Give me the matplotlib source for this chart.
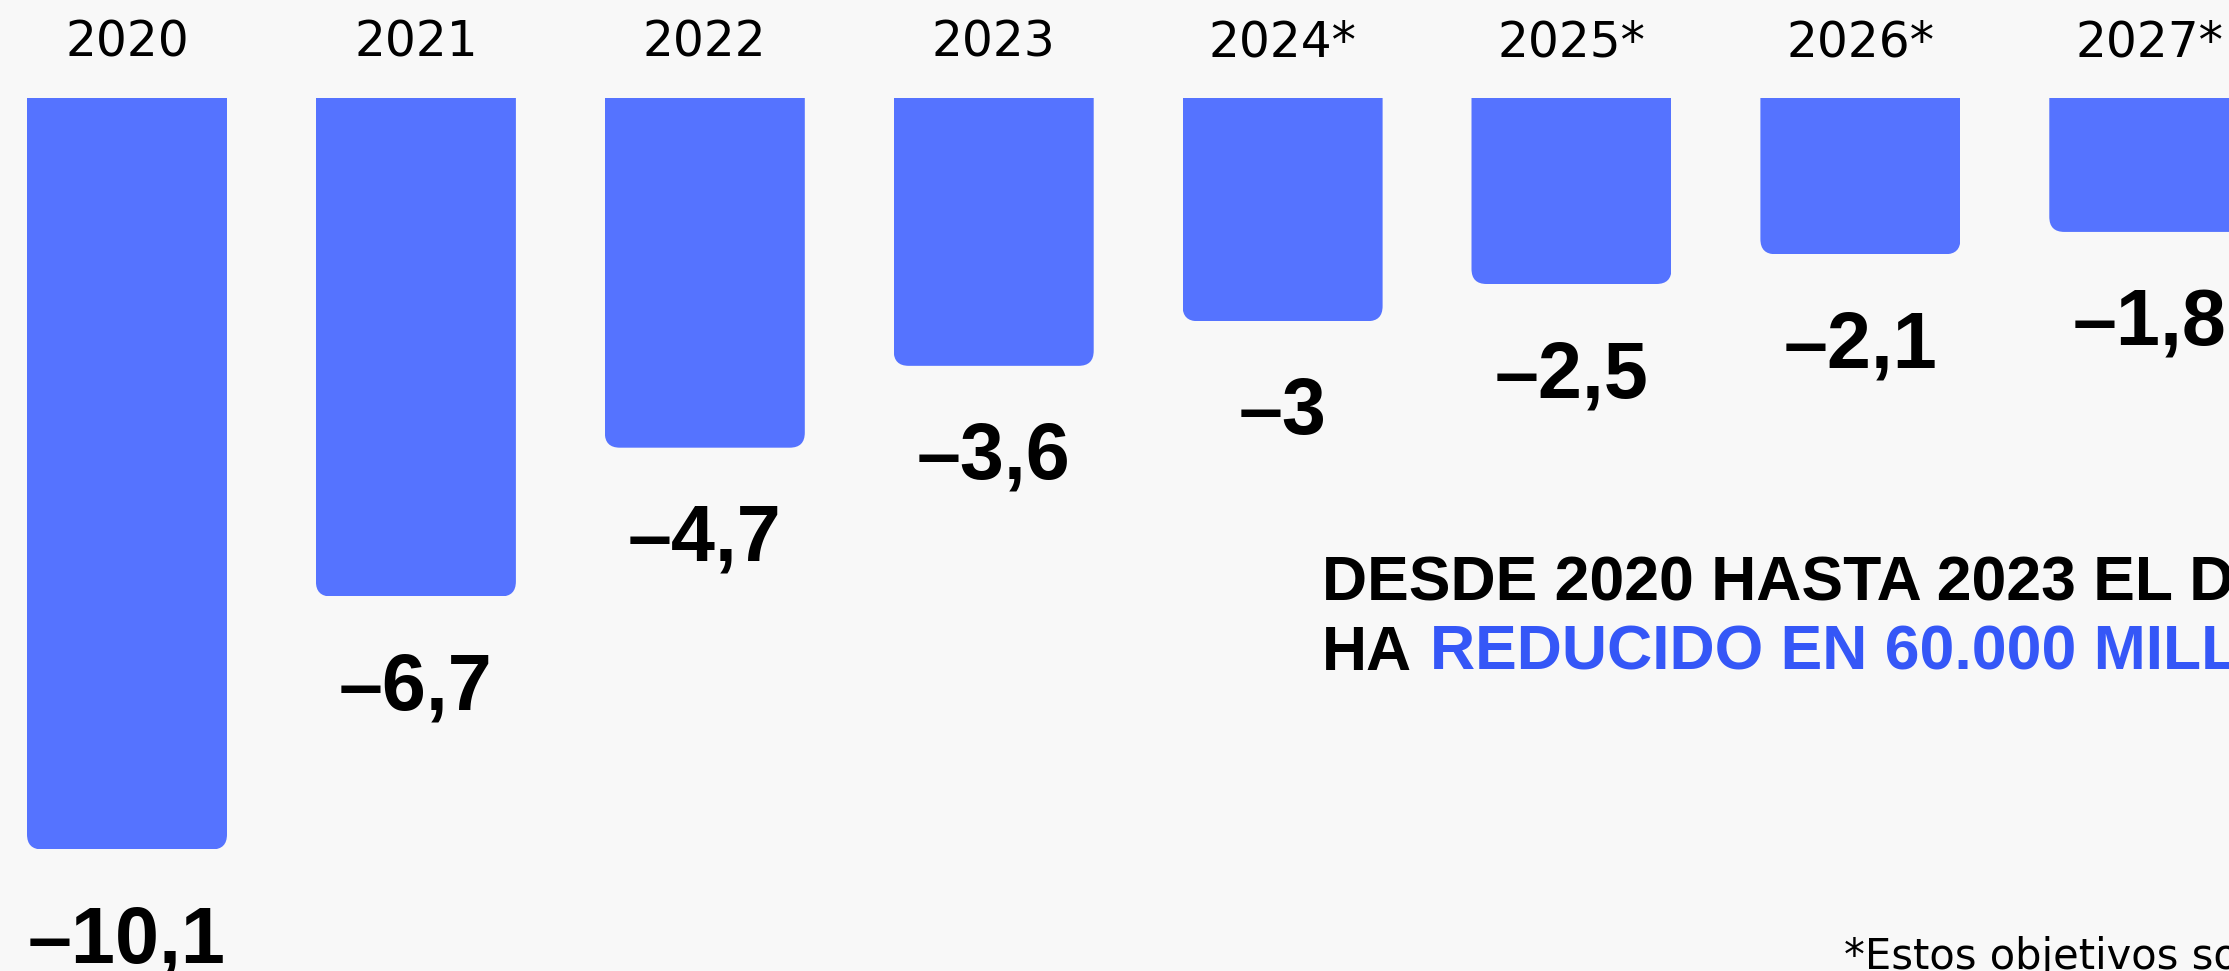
import matplotlib
matplotlib.use("Agg")
import matplotlib.pyplot as plt
from matplotlib.patches import FancyBboxPatch
import numpy as np

# data (deficit, % of GDP)
years = ["2020", "2021", "2022", "2023", "2024*", "2025*", "2026*", "2027*"]
deficit = [-10.1, -6.7, -4.7, -3.6, -3.0, -2.5, -2.1, -1.8]

headline_1 = "DESDE 2020 HASTA 2023 EL DÉFICIT SE"
headline_2a = "HA"
headline_2b = "REDUCIDO EN 60.000 MILLONES"
footnote = "*Estos objetivos son previsiones"

BG = "#f8f8f8"
BAR = "#5573ff"
BLUE = "#3557f7"

W, H, DPI = 2229, 971, 100
px_x = 288.9   # pixels per category step
px_y = 74.4    # pixels per unit of deficit


def fmt(v):
    s = f"{abs(v):.1f}".replace(".", ",")
    if s.endswith(",0"):
        s = s[:-2]
    return "–" + s if v < 0 else s


fig = plt.figure(figsize=(W / DPI, H / DPI), dpi=DPI, facecolor=BG)
ax = fig.add_axes([0, 0, 1, 1])
ax.set_facecolor(BG)
ax.set_xlim(-127 / px_x, (W - 127) / px_x)
ax.set_ylim(-(H - 98) / px_y, 98 / px_y)
ax.axis("off")

x = np.arange(len(years))
bars = ax.bar(x, deficit, width=200 / px_x, color=BAR, linewidth=0)

# round the bottom corners only: rounded box sticking out above 0,
# clipped by the plain bar rectangle
r = 15 / px_x
aspect = px_x / px_y
ry = r * aspect
for b in bars:
    x0, w = b.get_x(), b.get_width()
    top = max(b.get_y(), b.get_y() + b.get_height())
    bottom = min(b.get_y(), b.get_y() + b.get_height())
    p = FancyBboxPatch((x0, bottom), w, top - bottom + 2 * ry,
                       boxstyle=f"round,pad=0,rounding_size={r}",
                       mutation_aspect=aspect, fc=BAR, lw=0)
    ax.add_patch(p)
    p.set_clip_path(b)
    b.set_visible(False)

for xi, lab, v in zip(x, years, deficit):
    ax.annotate(lab, (xi, 0), xytext=(0, 30), textcoords="offset points",
                ha="center", va="baseline", fontsize=35, family="DejaVu Sans")
    ax.annotate(fmt(v), (xi, v), xytext=(0, -81.4), textcoords="offset points",
                ha="center", va="baseline", fontsize=57, fontweight="bold",
                family="Liberation Sans")

fig.text(1322 / W, 1 - 599 / H, headline_1, fontsize=45, fontweight="bold",
         family="Liberation Sans", va="baseline", ha="left")
t = fig.text(1322 / W, 1 - 670 / H, headline_2a, fontsize=45, fontweight="bold",
             family="Liberation Sans", va="baseline", ha="left")
ax.annotate(headline_2b, xy=(1, 0), xycoords=t, xytext=(13, 0),
            textcoords="offset points", va="bottom", ha="left",
            fontsize=45, fontweight="bold", family="Liberation Sans", color=BLUE)

fig.text(1844 / W, 1 - 969 / H, footnote, fontsize=30, family="DejaVu Sans",
         va="baseline", ha="left")

fig.savefig("out.png", dpi=DPI, facecolor=BG)
